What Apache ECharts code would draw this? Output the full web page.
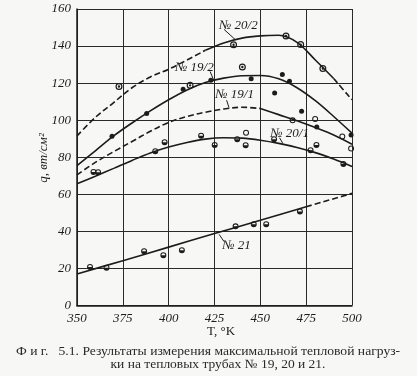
<!DOCTYPE html>
<html>
<head>
<meta charset="utf-8">
<script src="https://cdn.jsdelivr.net/npm/echarts@6/dist/echarts.min.js"></script>
<style>
  html, body { margin: 0; padding: 0; background: #f7f7f5; }
  #chart { width: 417px; height: 376px; }
</style>
</head>
<body>
<div id="chart"></div>
<script>
// Кривые (T, °K -> q, вт/см2)
const curveT = [350, 360, 370, 380, 390, 400, 410, 420, 430, 440, 450, 460, 470, 480, 490, 500];
const q20_2 = [91.5, 101.5, 109.5, 117.5, 123.3, 127.5, 132.5, 137.7, 141.7, 144.3, 145.5, 145.8, 142, 132.5, 122.5, 111];
const q19_2 = [75.5, 83.5, 91.5, 98.5, 105, 111, 116.3, 120.3, 122.7, 124, 124.1, 122.3, 117.5, 110.5, 102, 93];
const q19_1 = [70.5, 77.2, 83, 88.5, 94, 98.8, 102, 104.3, 106, 107, 106.3, 103, 99.7, 96, 92, 87];
const q20_1 = [65.7, 69.8, 74, 78.3, 82.3, 85.5, 88, 89.8, 90.5, 90.3, 89.2, 87.5, 85.3, 82.5, 79, 75];
const t21 = [350, 375, 400, 425, 450, 475, 500];
const q21 = [17, 24.2, 31.5, 38.8, 46, 53.3, 60.5];

// Экспериментальные точки
const ptsRingDot = [[372.9, 118.2], [411.7, 118.8], [435.4, 140.7], [440.2, 128.7], [464, 145.4], [472, 140.8], [484.1, 127.9]];
const ptsFilled = [[369.1, 91.3], [388, 103.6], [407.9, 116.7], [423, 121.5], [445, 122.3], [462, 124.7], [465.9, 121],
  [457.8, 114.7], [472.5, 104.8], [480.8, 96.3], [499.5, 92]];
const ptsOpen = [[442.2, 93.2], [467.6, 99.9], [479.9, 100.6], [494.7, 91.2], [499.5, 84.7]];
const ptsHalf = [[359, 72], [361.5, 71.9], [392.7, 83.3], [397.8, 88.1], [417.7, 91.6], [425.1, 86.6], [437.4, 89.7],
  [442, 86.5], [457.5, 89.7], [477.4, 83.8], [480.6, 86.6], [495.3, 76.3],
  [357.1, 20.8], [366.1, 20.4], [386.6, 29.3], [397.1, 27.1], [407.2, 29.8], [436.5, 42.7], [446.4, 43.9], [453.2, 43.8], [471.6, 50.7]];

// Подписи кривых: текст, положение, выноска
const tagText = ['№ 20/2', '№ 19/2', '№ 19/1', '№ 20/1', '№ 21'];
const tagPos = [[438, 151.3], [414, 128.5], [436, 114], [466, 93], [437, 32.3]];
const tagLead = [
  [[430.2, 149], [436.4, 143.4]],
  [[422.6, 126.3], [424.6, 121.5]],
  [[431.6, 110.8], [432.9, 106.8]],
  [[460.5, 90.5], [462.3, 87.4]],
  [[427.5, 38.4], [430.2, 34.5]]
];

const ink = '#1c1c1c';
const tickFont = 'Liberation Sans Narrow';

function seg(ts, qs, from, to) {
  const out = [];
  ts.forEach((t, i) => { if (t >= from && t <= to) out.push([t, qs[i]]); });
  return out;
}

function curve(data, dashed) {
  return {
    type: 'line',
    data: data,
    smooth: 0.35,
    showSymbol: false,
    silent: true,
    lineStyle: { color: ink, width: 1.6, type: dashed ? [6, 3] : 'solid' },
    z: 3
  };
}

const ring = 'M0,5A5,5 0 1,1 10,5A5,5 0 1,1 0,5Z M1.7,5A3.3,3.3 0 1,0 8.3,5A3.3,3.3 0 1,0 1.7,5Z';
const symRingDot = 'path://' + ring + ' M3.3,5A1.7,1.7 0 1,1 6.7,5A1.7,1.7 0 1,1 3.3,5Z';
const symOpen = 'path://' + ring;
const symHalf = 'path://' + ring + ' M1.7,5A3.3,3.3 0 0,0 8.3,5Z';

function points(data, symbol, size) {
  return {
    type: 'scatter',
    data: data,
    symbol: symbol,
    symbolSize: size,
    itemStyle: { color: ink, opacity: 1 },
    silent: true,
    z: 5
  };
}

const chart = echarts.init(document.getElementById('chart'));

const axisLabel = { color: ink, fontFamily: tickFont, fontStyle: 'italic', fontSize: 13 };

chart.setOption({
  animation: false,
  backgroundColor: '#f7f7f5',
  grid: { left: 77, top: 9, width: 275, height: 296.5 },
  xAxis: {
    type: 'value', min: 350, max: 500, interval: 25,
    axisLine: { lineStyle: { color: ink, width: 1.5 } },
    axisTick: { show: false },
    splitLine: { lineStyle: { color: '#2a2a2a', width: 1 } },
    axisLabel: Object.assign({ margin: 7 }, axisLabel)
  },
  yAxis: {
    type: 'value', min: 0, max: 160, interval: 20,
    axisLine: { show: true, lineStyle: { color: ink, width: 1.5 } },
    axisTick: { show: false },
    splitLine: { lineStyle: { color: '#2a2a2a', width: 1 } },
    axisLabel: Object.assign({ margin: 6 }, axisLabel)
  },
  series: [
    curve(seg(curveT, q20_2, 350, 420), true),
    curve(seg(curveT, q20_2, 420, 490), false),
    curve(seg(curveT, q20_2, 490, 500), true),
    curve(seg(curveT, q19_2, 350, 500), false),
    curve(seg(curveT, q19_1, 350, 450), true),
    curve(seg(curveT, q19_1, 450, 500), false),
    curve(seg(curveT, q20_1, 350, 500), false),
    curve(seg(t21, q21, 350, 475), false),
    curve(seg(t21, q21, 475, 500), true),
    points(ptsRingDot, symRingDot, 7),
    points(ptsFilled, 'circle', 5),
    points(ptsOpen, symOpen, 6),
    points(ptsHalf, symHalf, 6)
  ]
});

// Подписи, выноски и текст рисунка
const px = v => chart.convertToPixel({ gridIndex: 0 }, v);
const graphic = [];
tagText.forEach((t, i) => {
  const p = px(tagPos[i]);
  graphic.push({
    type: 'text', x: p[0], y: p[1], z: 10,
    style: { text: t, fill: ink, font: 'italic 13px "Liberation Sans Narrow"', textAlign: 'center', textVerticalAlign: 'middle' }
  });
  const a = px(tagLead[i][0]);
  const b = px(tagLead[i][1]);
  graphic.push({
    type: 'line', z: 10,
    shape: { x1: a[0], y1: a[1], x2: b[0], y2: b[1] },
    style: { stroke: ink, lineWidth: 1 }
  });
});

graphic.push({
  type: 'text', x: 44, y: 158, rotation: Math.PI / 2,
  style: { text: 'q, вт/см²', fill: ink, font: 'italic 13px "Liberation Sans Narrow"', textAlign: 'center', textVerticalAlign: 'middle' }
});
graphic.push({
  type: 'text', x: 221, y: 332,
  style: { text: 'T, °K', fill: ink, font: '13px "Liberation Serif"', textAlign: 'center', textVerticalAlign: 'middle' }
});
graphic.push({
  type: 'text', x: 16, y: 352, scaleX: 1.09,
  style: { text: 'Ф и г.   5.1. Результаты измерения максимальной тепловой нагруз-', fill: '#2a2a2a', font: '12.5px "Liberation Serif"', textAlign: 'left', textVerticalAlign: 'middle' }
});
graphic.push({
  type: 'text', x: 218, y: 365, scaleX: 1.08,
  style: { text: 'ки на тепловых трубах № 19, 20 и 21.', fill: '#2a2a2a', font: '12.5px "Liberation Serif"', textAlign: 'center', textVerticalAlign: 'middle' }
});

chart.setOption({ graphic: graphic });
</script>
</body>
</html>
